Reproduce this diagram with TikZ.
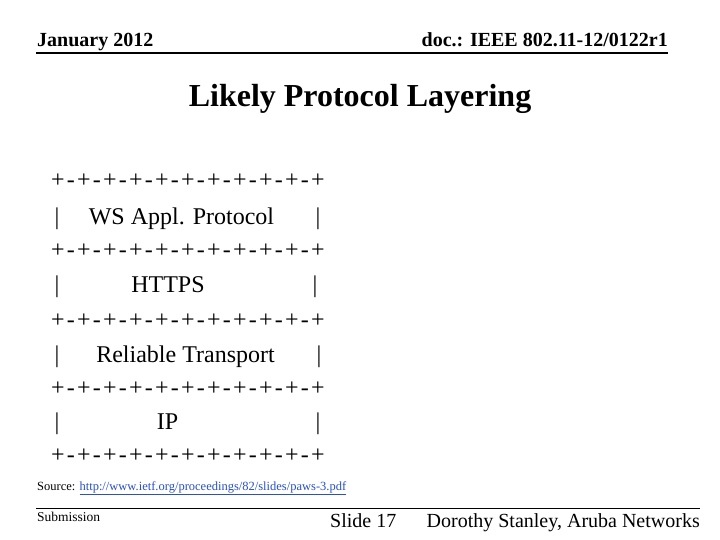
\documentclass[tikz,border=0pt]{standalone}
\usepackage{fontspec}
\setmainfont{Liberation Serif}
\usepackage{xcolor}
\definecolor{linkblue}{RGB}{40,80,200}
\begin{document}
\begin{tikzpicture}[x=1pt,y=-1pt,
  hdr/.style={font=\fontsize{20}{24}\selectfont\bfseries, inner sep=0pt, anchor=base west},
  row/.style={font=\fontsize{24}{28}\selectfont, inner sep=0pt, anchor=base},
  plusrow/.style={font=\fontsize{24}{28}\selectfont\addfontfeature{LetterSpace=9.3}, inner sep=0pt, anchor=base west},
  foot/.style={font=\fontsize{20}{24}\selectfont, inner sep=0pt, anchor=base west},
  rule/.style={line width=1.2pt}]
\useasboundingbox[fill=white] (0,0) rectangle (720,540);
% header
\node[hdr] (date) at (37,47) {January 2012};
\node[hdr, anchor=base east] (doc) at (668,47) {doc.: IEEE 802.11-12/0122r1};
\coordinate (hl) at (36,53);
\coordinate (hr) at (668,53);
\draw[rule] (hl) -- (hr);
% title
\node[font=\fontsize{32}{38}\selectfont\bfseries, inner sep=0pt, anchor=base] (title) at (360,107) {Likely Protocol Layering};
% plus rows
\foreach \r/\yb in {1/188,2/257,3/327,4/395,5/462}{
  \node[plusrow] (p\r) at (51,\yb) {+-+-+-+-+-+-+-+-+-+-+};
}
% pipe rows
\node[row] (l1) at (57,225) {|};
\node[row] (t1) at (181.5,225) {WS Appl. Protocol};
\node[row] (r1) at (318,225) {|};
\node[row] (l2) at (57,292) {|};
\node[row] (t2) at (168,292) {HTTPS};
\node[row] (r2) at (315,292) {|};
\node[row] (l3) at (57,362) {|};
\node[row] (t3) at (185.5,362) {Reliable Transport};
\node[row] (r3) at (319,362) {|};
\node[row] (l4) at (57,429) {|};
\node[row] (t4) at (167.5,429) {IP};
\node[row] (r4) at (318,429) {|};
% source
\node[font=\fontsize{12.5}{15}\selectfont, inner sep=0pt, anchor=base west] (src) at (37,490) {Source: \textcolor{linkblue}{\underline{http://www.ietf.org/proceedings/82/slides/paws-3.pdf}}};
% footer
\coordinate (fl) at (36,508);
\coordinate (fr) at (700,508);
\draw[line width=1pt] (fl) -- (fr);
\node[font=\fontsize{13.5}{16}\selectfont, inner sep=0pt, anchor=base west] (sub) at (37,521) {Submission};
\node[foot] (slide) at (330,527) {Slide 17};
\node[foot, anchor=base east] (auth) at (700,527) {Dorothy Stanley, Aruba Networks};
\end{tikzpicture}
\end{document}
